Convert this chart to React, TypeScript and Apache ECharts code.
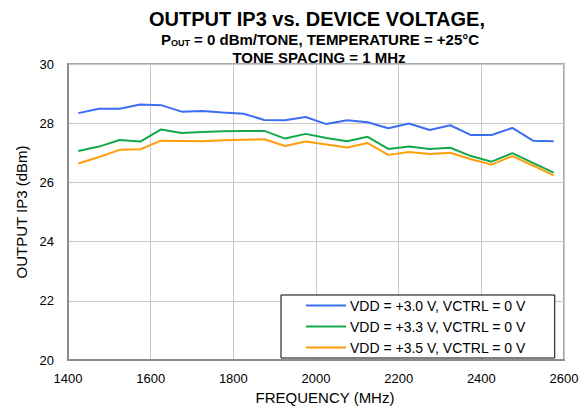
import React, { useEffect, useRef } from "react";
import * as echarts from "echarts";

const freqs = [1425, 1475, 1525, 1575, 1625, 1675, 1725, 1775, 1825, 1875, 1925, 1975, 2025, 2075, 2125, 2175, 2225, 2275, 2325, 2375, 2425, 2475, 2525, 2575];
const vdd30 = [28.34, 28.49, 28.49, 28.63, 28.61, 28.39, 28.41, 28.36, 28.32, 28.11, 28.1, 28.21, 27.97, 28.1, 28.03, 27.83, 27.99, 27.77, 27.93, 27.6, 27.6, 27.84, 27.41, 27.39];
const vdd33 = [27.06, 27.21, 27.43, 27.38, 27.79, 27.67, 27.7, 27.73, 27.74, 27.74, 27.48, 27.64, 27.5, 27.39, 27.54, 27.13, 27.21, 27.13, 27.17, 26.89, 26.7, 26.99, 26.66, 26.33];
const vdd35 = [26.64, 26.86, 27.1, 27.12, 27.41, 27.4, 27.39, 27.42, 27.44, 27.46, 27.23, 27.38, 27.28, 27.18, 27.33, 26.93, 27.03, 26.96, 27.0, 26.78, 26.6, 26.89, 26.57, 26.24];
const seriesNames = ["VDD = +3.0 V, VCTRL = 0 V", "VDD = +3.3 V, VCTRL = 0 V", "VDD = +3.5 V, VCTRL = 0 V"];
const colors = ["#3b6ef5", "#14a84c", "#ff9e0b"];
const titleLine1 = "OUTPUT IP3 vs. DEVICE VOLTAGE,";
const titleLine3 = "TONE SPACING = 1 MHz";

const FONT = "Liberation Sans, Arial, Helvetica, sans-serif";

export default function App() {
  const ref = useRef<HTMLDivElement>(null);
  useEffect(() => {
    if (!ref.current) return;
    const chart = echarts.init(ref.current, null, { renderer: "svg" });
    const all = [vdd30, vdd33, vdd35];
    chart.setOption({
      animation: false,
      backgroundColor: "#ffffff",
      textStyle: { fontFamily: FONT },
      graphic: [
        {
          type: "text",
          x: 317,
          y: 19,
          style: {
            text: titleLine1,
            fontFamily: FONT,
            fontWeight: "bold",
            fontSize: 20,
            fill: "#000",
            textAlign: "center",
            textVerticalAlign: "middle",
          },
        },
        {
          type: "text",
          x: 320,
          y: 39,
          style: {
            text: "{b|P}{s|OUT}{b| = 0 dBm/TONE, TEMPERATURE = +25°C}",
            fontFamily: FONT,
            textAlign: "center",
            textVerticalAlign: "middle",
            rich: {
              b: { fontFamily: FONT, fontWeight: "bold", fontSize: 15, fill: "#000", verticalAlign: "middle" },
              s: { fontFamily: FONT, fontWeight: "bold", fontSize: 9, fill: "#000", verticalAlign: "bottom", padding: [7, 0, 0, 0] },
            },
          },
        },
        {
          type: "text",
          x: 319,
          y: 57,
          style: {
            text: titleLine3,
            fontFamily: FONT,
            fontWeight: "bold",
            fontSize: 15,
            fill: "#000",
            textAlign: "center",
            textVerticalAlign: "middle",
          },
        },
      ],
      grid: {
        left: 68,
        top: 64,
        width: 496,
        height: 300,
        show: true,
        borderColor: "#8c8c8c",
        borderWidth: 1.5,
        backgroundColor: "transparent",
      },
      legend: {
        orient: "vertical",
        left: 281,
        top: 295,
        padding: [0, 29, 0, 25],
        itemGap: 0,
        itemWidth: 40,
        itemHeight: 2,
        icon: "rect",
        backgroundColor: "#ffffff",
        borderColor: "#000000",
        borderWidth: 1,
        data: seriesNames,
        textStyle: { fontFamily: FONT, fontSize: 14, color: "#000", lineHeight: 21, padding: [0, 0, 0, -1] },
      },
      xAxis: {
        type: "value",
        min: 1400,
        max: 2600,
        interval: 200,
        name: "FREQUENCY (MHz)",
        nameLocation: "middle",
        nameGap: 30,
        nameTextStyle: { fontFamily: FONT, fontSize: 15, color: "#000", padding: [0, 0, 0, 18] },
        axisLine: { show: true, lineStyle: { color: "#8c8c8c", width: 2 } },
        axisTick: { show: false },
        axisLabel: { fontFamily: FONT, fontSize: 13, color: "#000", margin: 12, formatter: (v: number) => String(v) },
        splitLine: { show: true, lineStyle: { color: "#c8c8c8", width: 1 } },
      },
      yAxis: {
        type: "value",
        min: 20,
        max: 30,
        interval: 2,
        name: "OUTPUT IP3 (dBm)",
        nameLocation: "middle",
        nameGap: 34,
        nameTextStyle: { fontFamily: FONT, fontSize: 15, color: "#000" },
        axisLine: { show: true, lineStyle: { color: "#8c8c8c", width: 2 } },
        axisTick: { show: false },
        axisLabel: { fontFamily: FONT, fontSize: 13, color: "#000", margin: 14 },
        splitLine: { show: true, lineStyle: { color: "#c8c8c8", width: 1 } },
      },
      series: all.map((vals, i) => ({
        type: "line",
        name: seriesNames[i],
        data: freqs.map((f, j) => [f, vals[j]]),
        showSymbol: false,
        symbol: "none",
        lineStyle: { color: colors[i], width: 2 },
        itemStyle: { color: colors[i] },
        z: 3 - i,
      })),
    });
    return () => chart.dispose();
  }, []);
  return (
    <div
      ref={ref}
      style={{ position: "fixed", left: 0, top: 0, width: 586, height: 410 }}
    />
  );
}
